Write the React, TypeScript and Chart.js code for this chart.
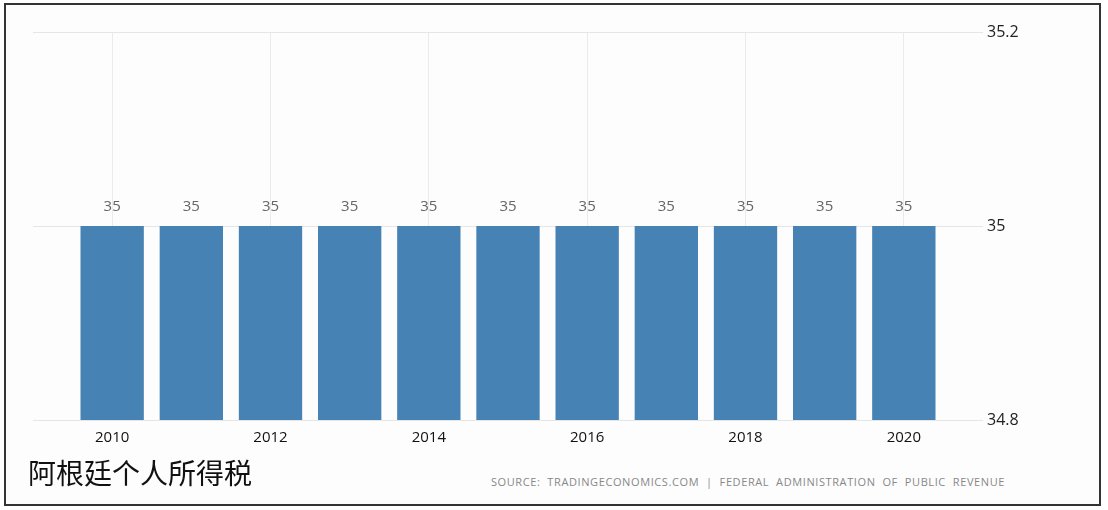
import React, { useEffect, useRef } from 'react';
import { Chart, registerables } from 'chart.js';

Chart.register(...registerables);

const years = [2010, 2011, 2012, 2013, 2014, 2015, 2016, 2017, 2018, 2019, 2020];
const rates = [35, 35, 35, 35, 35, 35, 35, 35, 35, 35, 35];
const xTickYears = [2010, 2012, 2014, 2016, 2018, 2020];
const yTicks = [34.8, 35, 35.2];
const titleText = '阿根廷个人所得税';
const sourceText = 'SOURCE:  TRADINGECONOMICS.COM  |  FEDERAL  ADMINISTRATION  OF  PUBLIC  REVENUE';

const valueLabels = {
  id: 'valueLabels',
  afterDatasetsDraw(chart: any) {
    const ctx = chart.ctx;
    const meta = chart.getDatasetMeta(0);
    ctx.save();
    ctx.font = '15px "Open Sans"';
    ctx.fillStyle = '#666';
    ctx.textAlign = 'center';
    ctx.textBaseline = 'middle';
    meta.data.forEach((el: any, i: number) => {
      ctx.fillText(String(rates[i]), el.x, el.y - 19);
    });
    ctx.restore();
  },
};

export default function App() {
  const canvasRef = useRef<HTMLCanvasElement | null>(null);

  useEffect(() => {
    document.body.style.margin = '0';
    const canvas = canvasRef.current;
    if (!canvas) return;
    const chart = new Chart(canvas, {
      type: 'bar',
      data: {
        datasets: [
          {
            data: years.map((y, i) => ({ x: y, y: rates[i] })),
            backgroundColor: '#4682b4',
            borderWidth: 0,
            barPercentage: 0.8,
            categoryPercentage: 1,
          },
        ],
      },
      options: {
        responsive: false,
        animation: false,
        layout: { padding: { left: 33, top: 32, right: 0, bottom: 0 } },
        plugins: {
          legend: { display: false },
          tooltip: { enabled: false },
        },
        scales: {
          x: {
            type: 'linear',
            min: 2009,
            max: 2021,
            offset: false,
            afterBuildTicks: (axis: any) => {
              axis.ticks = xTickYears.map((v) => ({ value: v }));
            },
            afterFit: (s: any) => {
              s.height = 40;
            },
            ticks: {
              callback: (v: any) => String(v),
              font: { family: '"Open Sans"', size: 15 },
              color: '#111',
              padding: 9,
              maxRotation: 0,
            },
            grid: { color: '#ebebeb', drawTicks: false, offset: false },
            border: { display: false },
          },
          y: {
            position: 'right',
            min: 34.8,
            max: 35.2,
            afterBuildTicks: (axis: any) => {
              axis.ticks = yTicks.map((v) => ({ value: v }));
            },
            afterFit: (s: any) => {
              s.width = 125;
            },
            ticks: {
              callback: (v: any) => String(parseFloat(Number(v).toFixed(1))),
              font: { family: '"Open Sans"', size: 16 },
              color: '#222',
              padding: 4,
            },
            grid: { color: '#e6e6e6', drawTicks: false },
            border: { display: false },
          },
        },
      } as any,
      plugins: [valueLabels],
    });
    return () => chart.destroy();
  }, []);

  return (
    <div style={{ position: 'relative', width: 1108, height: 510, background: '#ffffff', overflow: 'hidden' }}>
      <div
        style={{
          position: 'absolute',
          left: 4,
          top: 3,
          width: 1097,
          height: 503,
          border: '2px solid #333',
          boxSizing: 'border-box',
          background: '#fdfdfe',
        }}
      />
      <canvas ref={canvasRef} width={1108} height={460} style={{ position: 'absolute', left: 0, top: 0 }} />
      <div
        style={{
          position: 'absolute',
          left: 28,
          top: 457,
          fontFamily: '"Noto Sans CJK SC"',
          fontSize: 28,
          lineHeight: '30px',
          color: '#111',
          whiteSpace: 'nowrap',
        }}
      >
        {titleText}
      </div>
      <div
        style={{
          position: 'absolute',
          right: 103,
          top: 475,
          fontFamily: '"Open Sans"',
          fontSize: 11,
          lineHeight: '14px',
          letterSpacing: '0.6px',
          color: '#888',
          whiteSpace: 'pre',
        }}
      >
        {sourceText}
      </div>
    </div>
  );
}
